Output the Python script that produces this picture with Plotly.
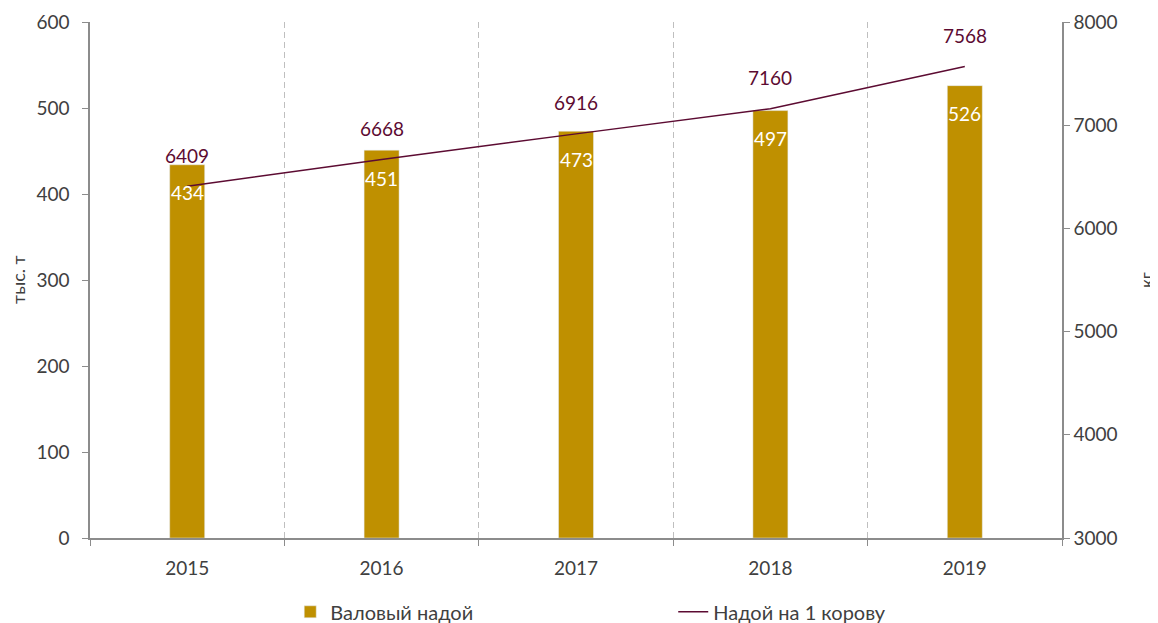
import plotly.graph_objects as go

years = ["2015", "2016", "2017", "2018", "2019"]
gross_yield = [434, 451, 473, 497, 526]
yield_per_cow = [6409, 6668, 6916, 7160, 7568]
bar_name = "Валовый надой"
line_name = "Надой на 1 корову"
left_title = "тыс. т"
right_title = "кг"

BAR_COLOR = "#BF9000"
LINE_COLOR = "#5C0B32"
TEXT = "#404040"
AXIS = "#8C8C8C"
FONT = "Lato"

fig = go.Figure()
fig.add_trace(go.Bar(x=years, y=gross_yield, name=bar_name, marker_color=BAR_COLOR,
                     width=0.18, yaxis="y"))
fig.add_trace(go.Scatter(x=years, y=yield_per_cow, name=line_name, mode="lines",
                         line=dict(color=LINE_COLOR, width=1.5), yaxis="y2"))

for i, v in enumerate(gross_yield):
    fig.add_annotation(x=i, y=v, xref="x", yref="y", text=str(v), showarrow=False,
                       yshift=-28, font=dict(color="white", size=19, family=FONT))
for i, v in enumerate(yield_per_cow):
    fig.add_annotation(x=i, y=v, xref="x", yref="y2", text=str(v), showarrow=False,
                       yshift=31, font=dict(color=LINE_COLOR, size=19, family=FONT))

# axis titles
fig.add_annotation(x=-0.0741, y=0.502, xref="paper", yref="paper", text=left_title,
                   textangle=-90, showarrow=False, xanchor="center", yanchor="middle",
                   font=dict(size=18, color=TEXT, family=FONT))
fig.add_annotation(x=1.0864, y=0.5, xref="paper", yref="paper", text=right_title,
                   textangle=-90, showarrow=False, xanchor="center", yanchor="middle",
                   font=dict(size=17, color=TEXT, family=FONT))

fig.update_layout(
    width=1150, height=615,
    margin=dict(l=82, r=96, t=14, b=85, autoexpand=False),
    paper_bgcolor="white", plot_bgcolor="white",
    font=dict(family=FONT, size=19, color=TEXT),
    showlegend=True,
    legend=dict(orientation="h", x=0.206, xanchor="left", y=-0.143, yanchor="middle",
                entrywidth=338, entrywidthmode="pixels", font=dict(size=20, color=TEXT)),
    xaxis=dict(type="category", tickson="boundaries", range=[-0.5, 4.5], automargin=False,
               showgrid=True, gridcolor="#BFBFBF", griddash="6px,4px", gridwidth=1.2,
               showline=True, linecolor=AXIS, linewidth=1.5,
               ticks="outside", ticklen=6, tickcolor=AXIS, ticklabelstandoff=12,
               tickfont=dict(size=19, color=TEXT)),
    yaxis=dict(range=[0, 600], dtick=100, showgrid=False, zeroline=False, automargin=False,
               showline=True, linecolor=AXIS, linewidth=1.5,
               ticks="outside", ticklen=6, tickcolor=AXIS, ticklabelstandoff=9,
               tickfont=dict(size=19, color=TEXT)),
    yaxis2=dict(range=[3000, 8000], dtick=1000, overlaying="y", side="right",
                showgrid=False, zeroline=False, automargin=False,
                showline=True, linecolor=AXIS, linewidth=1.5,
                ticks="outside", ticklen=6, tickcolor=AXIS, ticklabelstandoff=0,
                tickfont=dict(size=19, color=TEXT)),
)

fig.write_html("out.html")
